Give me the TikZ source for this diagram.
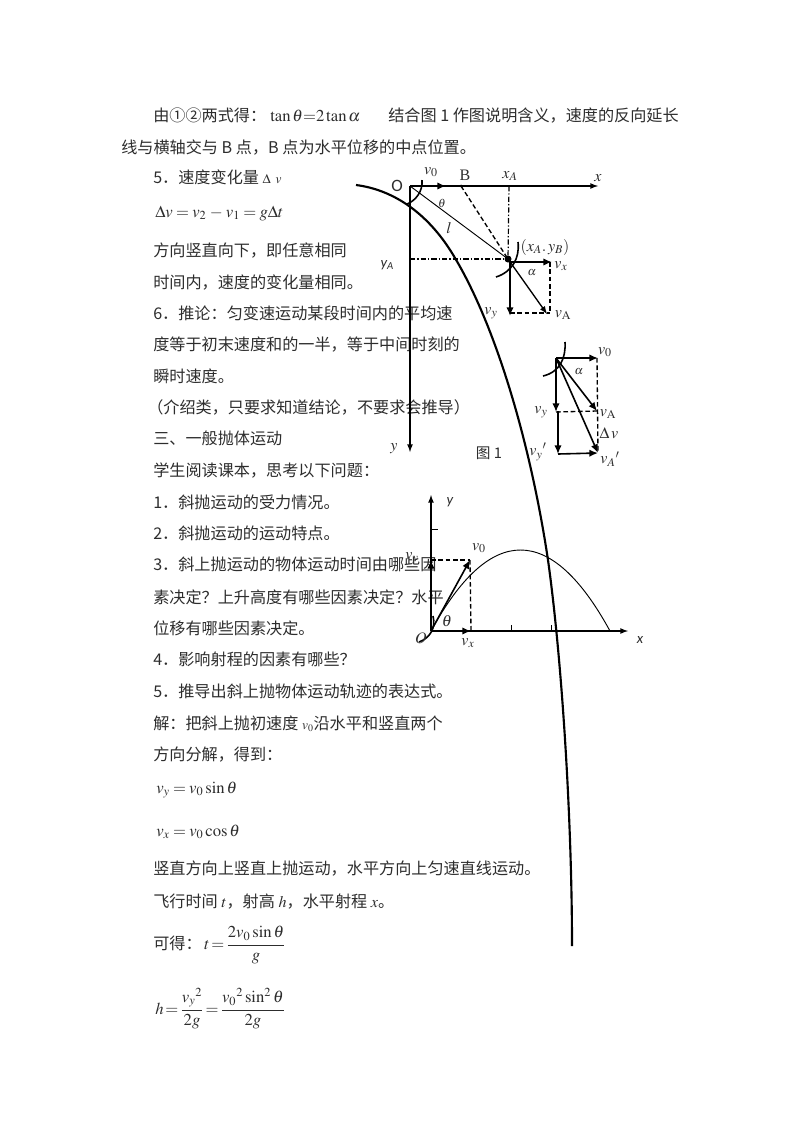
\documentclass[tikz,border=0pt]{standalone}
\usepackage{amsmath,amssymb}
\usepackage{mathptmx}
\usepackage[no-math]{fontspec}
\setmainfont{Liberation Serif}
\newfontfamily\cjk{Noto Sans CJK SC}
\newfontfamily\lab{Carlito}
\usetikzlibrary{arrows.meta}
\tikzset{>=latex}
\definecolor{mytext}{RGB}{45, 45, 45}
\begin{document}
\begin{tikzpicture}[
    x = 0.75pt, y = -0.75pt,
    txt/.style = {anchor=base west, inner sep=0pt, text=mytext, font=\cjk\fontsize{12.1}{14}\selectfont},
    eqn/.style = {anchor=base west, inner sep=0pt, text=mytext, font=\fontsize{12.5}{14}\selectfont},
    lbl/.style = {inner sep=0pt, text=mytext, font=\fontsize{12}{14}\selectfont},
    sns/.style = {inner sep=0pt, text=mytext, font=\lab\fontsize{11}{12}\itshape\selectfont},
    d0/.style = {line width = 1.6pt},
    d1/.style = {line width = 1pt},
    d2/.style = {line width = 0.7pt},
    vec/.style = {line width = 1.2pt, ->, >={Latex[length=6.5pt,width=5.5pt]}},
    dsh/.style = {line width = 1pt, dash pattern=on 3.5pt off 2pt},
    dsd/.style = {line width = 0.9pt, dash pattern=on 4pt off 1.5pt on 1pt off 1.5pt},
]
\useasboundingbox[fill=white] (0,0) rectangle (800,1132);

% text of the page
\node[txt] (t1) at (153,121) {由①②两式得：};
\node[eqn] (t1a) at (270,121.5) {$\tan\theta{=}2\tan\alpha$};
\node[txt] (t1b) at (388,121) {结合图 1 作图说明含义，速度的反向延长};
\node[txt] (t2) at (121,153) {线与横轴交与 B 点，B 点为水平位移的中点位置。};
\node[txt] (t3) at (153,183) {5．速度变化量 {\normalfont\fontsize{10}{12}\selectfont$\Delta\ \,v$}};
\node[eqn] (t4) at (155,217) {\thickmuskip=3.5mu\medmuskip=3.5mu$\Delta v = v_2 - v_1 = g\Delta t$};
\node[txt] (t5) at (153,256) {方向竖直向下，即任意相同};
\node[txt] (t6) at (153,288) {时间内，速度的变化量相同。};
\node[txt] (t7) at (153,319) {6．推论：匀变速运动某段时间内的平均速};
\node[txt] (t8) at (153,350) {度等于初末速度和的一半，等于中间时刻的};
\node[txt] (t9) at (153,382) {瞬时速度。};
\node[txt] (t10) at (147,413) {（介绍类，只要求知道结论，不要求会推导）};
\node[txt] (t11) at (153,444) {三、一般抛体运动};
\node[txt] (t12) at (153,476) {学生阅读课本，思考以下问题：};
\node[txt] (t13) at (153,508) {1．斜抛运动的受力情况。};
\node[txt] (t14) at (153,539) {2．斜抛运动的运动特点。};
\node[txt] (t15) at (153,570) {3．斜上抛运动的物体运动时间由哪些因};
\node[txt] (t16) at (153,603) {素决定？上升高度有哪些因素决定？水平};
\node[txt] (t17) at (153,634) {位移有哪些因素决定。};
\node[txt] (t18) at (153,665) {4．影响射程的因素有哪些？};
\node[txt] (t19) at (153,697) {5．推导出斜上抛物体运动轨迹的表达式。};
\node[txt] (t20) at (153,729) {解：把斜上抛初速度 {\normalfont\fontsize{10}{12}\selectfont$v_0$}沿水平和竖直两个};
\node[txt] (t21) at (153,760) {方向分解，得到：};
\node[eqn] (t22) at (156,793) {\thickmuskip=3.5mu$v_y = v_0\sin\theta$};
\node[eqn] (t23) at (156,836) {\thickmuskip=3.5mu$v_x = v_0\cos\theta$};
\node[txt] (t24) at (153,874) {竖直方向上竖直上抛运动，水平方向上匀速直线运动。};
\node[txt] (t25) at (153,907) {飞行时间 {\normalfont$t$}，射高 {\normalfont$h$}，水平射程 {\normalfont$x$}。};
\node[txt] (t26) at (153,949) {可得：};
\node[eqn] (t27) at (204,949) {\thickmuskip=2mu$t = \dfrac{2v_0\sin\theta}{g}$};
\node[eqn] (t28) at (155,1014) {\thickmuskip=2mu$h = \dfrac{{v_y}^2}{2g} = \dfrac{{v_0}^2\sin^2\theta}{2g}$};

% figure 1
\coordinate (O) at (410,186);
\coordinate (Xend) at (598,186);
\coordinate (Yend) at (410,452);
\coordinate (V0) at (446,186);
\coordinate (B) at (461,186);
\coordinate (XA) at (509,186);
\coordinate (YA) at (410,259);
\coordinate (A) at (508,259);
\coordinate (VA) at (547,314);
\coordinate (Ax) at (510,262);
\coordinate (Vx) at (552,262);
\coordinate (Vy) at (510,316);
\coordinate (Cx) at (550,262);
\coordinate (Cy) at (550,313);
\coordinate (Dy) at (510,313);

\draw[d0] (356,185) .. controls (395,190) and (430,215) .. (455,258)
    .. controls (495,325) and (530,440) .. (548,560)
    .. controls (562,660) and (572,820) .. (572,946);

\draw[d1, ->] (O) -- (Xend);
\draw[d1, ->] (O) -- (Yend);
\draw[vec] (O) -- (V0);
\draw[d2] (O) -- (A);
\draw[d1, ->] (A) -- (VA);
\draw[vec] (Ax) -- (Vx);
\draw[vec] (Ax) -- (Vy);
\draw[dsh] (Cx) -- (Cy);
\draw[dsh] (Dy) -- (Cy);
\draw[dsh] (B) -- (A);
\draw[dsd] (XA) -- (A);
\draw[dsd] (YA) -- (A);
\fill (B) circle (1.5);
\fill (A) circle (3.5);
\draw[line width=1.2pt] (422,180) .. controls (423,192) and (415,201) .. (407,204);
\draw[line width=1.2pt] (518,242) .. controls (520,258) and (512,272) .. (496,277);

\node[lbl, font=\lab\fontsize{13}{14}\selectfont] (lO) at (397,186) {O};
\node[lbl] (lv0) at (431,172) {$v_0$};
\node[lbl] (lB) at (465,175) {B};
\node[lbl] (lxA) at (510,176) {$x_A$};
\node[lbl] (lx) at (598,178) {$x$};
\node[lbl, font=\fontsize{9}{10}\selectfont] (lth) at (442,203) {$\theta$};
\node[lbl] (ll) at (449,228) {$l$};
\node[lbl] (lAp) at (545,247) {$(x_A.\,y_B)$};
\node[sns] (lyA) at (387,265) {y\raisebox{-2pt}{\fontsize{8}{9}\selectfont A}};
\node[lbl] (lvx) at (561,266) {$v_x$};
\node[lbl, font=\fontsize{9}{10}\selectfont] (la) at (532,273) {$\alpha$};
\node[lbl] (lvy) at (491,313) {$v_y$};
\node[lbl] (lvA) at (563,315) {$v_{\mathrm{A}}$};
\node[lbl] (ly) at (394,449) {$y$};

% figure 1, the triangle of velocities
\coordinate (P) at (556,358);
\coordinate (Pv0) at (598,358);
\coordinate (Pvy) at (556,412);
\coordinate (Pvy2) at (558,454);
\coordinate (Pr) at (597,358);
\coordinate (PvA) at (597,411);
\coordinate (PvB) at (598,453);
\coordinate (Pm) at (558,411);
\draw[vec] (P) -- (Pv0);
\draw[vec] (P) -- (Pvy);
\draw[vec] (Pm) -- (Pvy2);
\draw[vec] (P) -- (PvA);
\draw[vec] (P) -- (PvB);
\draw[vec] (Pvy2) -- (PvB);
\draw[dsh] (Pr) -- (PvB);
\draw[dsh] (Pvy) -- (PvA);
\draw[line width=1.2pt] (565,342) .. controls (566,358) and (560,372) .. (543,376);

\node[lbl] (lp0) at (605,352) {$v_0$};
\node[lbl, font=\fontsize{9}{10}\selectfont] (lpa) at (579,372) {$\alpha$};
\node[lbl] (lpy) at (541,412) {$v_y$};
\node[lbl] (lpA) at (608,414) {$v_{\mathrm{A}}$};
\node[lbl] (lpd) at (609,433) {$\Delta\,v$};
\node[lbl] (lpy2) at (538,452) {$v_y{}'$};
\node[lbl] (lpB) at (610,459) {$v_A{}'$};
\node[txt, anchor=center, font=\cjk\fontsize{11}{13}\selectfont] (lfig) at (489,453) {图 1};

% figure 2
\coordinate (Q) at (431,631);
\coordinate (Qx) at (628,631);
\coordinate (Qy) at (431,495);
\coordinate (Qv) at (470,560);
\coordinate (Qa) at (431,560);
\coordinate (Qb) at (471,631);
\coordinate (Qe) at (610,631);
\coordinate (Qt) at (431,529);
\draw[d1, ->] (Q) -- (Qx);
\draw[d1, ->] (Q) -- (Qy);
\draw[d2] (Q) .. controls (490,523) and (551,523) .. (Qe);
\draw[vec] (Q) -- (Qv);
\draw[vec] (Q) -- (Qa);
\draw[vec] (Q) -- (Qb);
\draw[dsh] (Qa) -- (Qv);
\draw[dsh] (Qv) -- (Qb);
\draw[d2] (511,631) -- ++(0,-6);
\draw[d2] (551,631) -- ++(0,-6);
\draw[d2] (Qt) -- ++(7,0);
\draw[line width=1.2pt] (433,616) .. controls (436,628) and (430,638) .. (419,642);

\node[lbl] (lq0) at (479,548) {$v_0$};
\node[lbl] (lqy) at (412,558) {$v_y$};
\node[lbl] (lqt) at (447,621) {$\theta$};
\node[lbl] (lqx) at (468,643) {$v_x$};
\node[lbl] (lqO) at (421,638) {$O$};
\node[sns] (lqX) at (640,640) {x};
\node[sns] (lqY) at (450,502) {y};
\end{tikzpicture}
\end{document}
